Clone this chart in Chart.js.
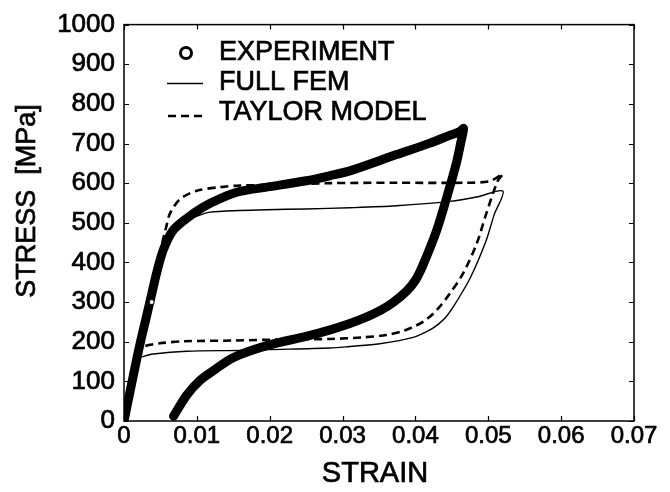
<!DOCTYPE html>
<html>
<head>
<meta charset="utf-8">
<script src="https://cdn.jsdelivr.net/npm/chart.js@4"></script>
<style>
    html, body { margin: 0; padding: 0; background: #fff; }
    #wrap { width: 670px; height: 492px; }
</style>
</head>
<body>
<div id="wrap"><canvas id="stressChart"></canvas></div>
<script>
// values (strain, stress in MPa)
const expStrain = [0, 0.0010, 0.0020, 0.0031, 0.0038, 0.0045, 0.0054, 0.0067, 0.0086, 0.0108, 0.0132, 0.0159, 0.0196, 0.0250, 0.0283, 0.0310, 0.0374, 0.0420, 0.0446, 0.0461, 0.0466,
    0.0462, 0.0456, 0.0443, 0.0429, 0.0410, 0.0400, 0.0388, 0.0370, 0.0351, 0.0330, 0.0310, 0.0283, 0.0251, 0.0196, 0.0150, 0.0125, 0.0104, 0.0086, 0.0068];
const expStress = [0, 90, 178, 265, 320, 375, 432, 480, 511, 539, 561, 579, 590, 606, 619, 631, 672, 701, 720, 730, 738,
    700, 649, 564, 480, 392, 355, 328, 300, 278, 260, 246, 230, 214, 190, 160, 130, 102, 65, 12];

const femStrain = [0, 0.0030, 0.0050, 0.0065, 0.0085, 0.0105, 0.0118, 0.0159, 0.0196, 0.0250, 0.0310, 0.0374, 0.0447, 0.0484, 0.0520,
    0.0508, 0.0497, 0.0475, 0.0456, 0.0443, 0.0432, 0.0420, 0.0397, 0.0351, 0.0310, 0.0283, 0.0196, 0.0159, 0.0086, 0.0040, 0.0027, 0.0021, 0];
const femStress = [0, 260, 420, 475, 505, 520, 527, 531, 533, 535, 538, 543, 554, 565, 580,
    520, 455, 360, 300, 265, 245, 230, 211, 195, 188, 184, 180, 178, 176, 169, 163, 158, 0];

const taylorStrain = [0, 0.0030, 0.0050, 0.0058, 0.0063, 0.0077, 0.0100, 0.0132, 0.0159, 0.0187, 0.0283, 0.0374, 0.0470, 0.0502, 0.0520,
    0.0513, 0.0497, 0.0484, 0.0465, 0.0447, 0.0435, 0.0424, 0.0412, 0.0400, 0.0383, 0.0360, 0.0328, 0.0283, 0.0223, 0.0150, 0.0081, 0.0049, 0.0029, 0.0023, 0];
const taylorStress = [0, 260, 430, 490, 523, 560, 581, 590, 594, 595, 600, 601, 601, 605, 623,
    606, 522, 447, 371, 321, 292, 270, 252, 240, 227, 217, 211, 207, 206, 203, 201, 196, 189, 180, 0];

// one open marker visible inside the experiment band
const markerStrain = [0.0038];
const markerStress = [300];

const xTickValues = [0, 0.01, 0.02, 0.03, 0.04, 0.05, 0.06, 0.07];
const xTickLabels = ["0", "0.01", "0.02", "0.03", "0.04", "0.05", "0.06", "0.07"];
const yTickValues = [0, 100, 200, 300, 400, 500, 600, 700, 800, 900, 1000];
const yTickLabels = ["0", "100", "200", "300", "400", "500", "600", "700", "800", "900", "1000"];

const legendLabels = ["EXPERIMENT", "FULL FEM", "TAYLOR MODEL"];
const xTitle = "STRAIN";
const yTitle = "STRESS  [MPa]";

const FONT = "'Liberation Sans', Arial, Helvetica, sans-serif";

function zip(xs, ys) {
    return xs.map((x, i) => ({ x: x, y: ys[i] }));
}

// heavier text, like the scanned original
function heavyText(ctx, text, x, y) {
    ctx.fillText(text, x, y);
    ctx.strokeText(text, x, y);
}

// frame with inward ticks on all four sides
const framePlugin = {
    id: "frame",
    afterDatasetsDraw(chart) {
        const { ctx, chartArea: a, scales } = chart;
        const tl = 5;
        ctx.save();
        ctx.strokeStyle = "#000";
        ctx.lineWidth = 1.5;
        ctx.strokeRect(a.left, a.top, a.right - a.left, a.bottom - a.top);
        ctx.beginPath();
        xTickValues.forEach((v) => {
            const px = Math.round(scales.x.getPixelForValue(v)) + 0.5;
            ctx.moveTo(px, a.bottom); ctx.lineTo(px, a.bottom - tl);
            ctx.moveTo(px, a.top); ctx.lineTo(px, a.top + tl);
        });
        yTickValues.forEach((v) => {
            const py = Math.round(scales.y.getPixelForValue(v)) + 0.5;
            ctx.moveTo(a.left, py); ctx.lineTo(a.left + tl, py);
            ctx.moveTo(a.right, py); ctx.lineTo(a.right - tl, py);
        });
        ctx.lineWidth = 1.2;
        ctx.stroke();
        ctx.restore();
    },
};

// axis titles and the legend inside the plot
const labelsPlugin = {
    id: "labels",
    afterDraw(chart) {
        const { ctx } = chart;
        ctx.save();
        ctx.fillStyle = "#000";
        ctx.strokeStyle = "#000";
        ctx.lineWidth = 0.7;
        ctx.textBaseline = "middle";

        ctx.font = "29px " + FONT;
        ctx.textAlign = "center";
        heavyText(ctx, xTitle, 375, 474);

        ctx.save();
        ctx.translate(28, 201);
        ctx.rotate(-Math.PI / 2);
        ctx.font = "27px " + FONT;
        heavyText(ctx, yTitle, 0, 0);
        ctx.restore();

        const textX = 219;
        const rows = [52.5, 82.5, 113];
        ctx.font = "27px " + FONT;
        ctx.textAlign = "left";
        legendLabels.forEach((t, i) => heavyText(ctx, t, textX, rows[i]));

        ctx.lineWidth = 3;
        ctx.beginPath();
        ctx.arc(186, 53, 5.5, 0, Math.PI * 2);
        ctx.stroke();

        ctx.lineWidth = 1.4;
        ctx.beginPath();
        ctx.moveTo(167, 83.5); ctx.lineTo(203, 83.5);
        ctx.stroke();

        ctx.lineWidth = 2.6;
        ctx.setLineDash([8, 5]);
        ctx.beginPath();
        ctx.moveTo(168, 116); ctx.lineTo(205, 116);
        ctx.stroke();
        ctx.restore();
    },
};

new Chart(document.getElementById("stressChart"), {
    type: "scatter",
    data: {
        datasets: [
            {
                label: legendLabels[0],
                data: zip(expStrain, expStress),
                showLine: true,
                borderColor: "#000",
                borderWidth: 9,
                borderCapStyle: "round",
                borderJoinStyle: "round",
                pointRadius: 0,
                tension: 0.3,
                order: 2,
            },
            {
                label: "marker",
                data: zip(markerStrain, markerStress),
                pointRadius: 2.5,
                pointBackgroundColor: "#fff",
                pointBorderColor: "#000",
                pointBorderWidth: 1,
                order: 0,
            },
            {
                label: legendLabels[1],
                data: zip(femStrain, femStress),
                showLine: true,
                borderColor: "#000",
                borderWidth: 1.4,
                pointRadius: 0,
                tension: 0.3,
                order: 1,
            },
            {
                label: legendLabels[2],
                data: zip(taylorStrain, taylorStress),
                showLine: true,
                borderColor: "#000",
                borderWidth: 2.6,
                borderDash: [8, 5],
                pointRadius: 0,
                tension: 0.3,
                order: 1,
            },
        ],
    },
    options: {
        responsive: true,
        maintainAspectRatio: false,
        animation: false,
        devicePixelRatio: 1,
        layout: { padding: { top: 24, right: 36, left: 0, bottom: 0 } },
        plugins: {
            legend: { display: false },
            tooltip: { enabled: false },
        },
        scales: {
            x: {
                type: "linear",
                min: 0,
                max: 0.07,
                afterBuildTicks: (s) => { s.ticks = xTickValues.map((v) => ({ value: v })); },
                afterFit: (s) => { s.height = 71; },
                ticks: {
                    callback: (v, i) => xTickLabels[i],
                    font: { family: FONT, size: 24 },
                    color: "#000",
                    textStrokeColor: "#000",
                    textStrokeWidth: 0.7,
                    padding: 1,
                    maxRotation: 0,
                    autoSkip: false,
                },
                grid: { display: false, drawTicks: false },
                border: { display: false },
            },
            y: {
                type: "linear",
                min: 0,
                max: 1000,
                afterBuildTicks: (s) => { s.ticks = yTickValues.map((v) => ({ value: v })); },
                afterFit: (s) => { s.width = 124; },
                ticks: {
                    callback: (v, i) => yTickLabels[i],
                    font: { family: FONT, size: 26 },
                    color: "#000",
                    textStrokeColor: "#000",
                    textStrokeWidth: 0.7,
                    padding: 9,
                    autoSkip: false,
                },
                grid: { display: false, drawTicks: false },
                border: { display: false },
            },
        },
    },
    plugins: [framePlugin, labelsPlugin],
});
</script>
</body>
</html>
